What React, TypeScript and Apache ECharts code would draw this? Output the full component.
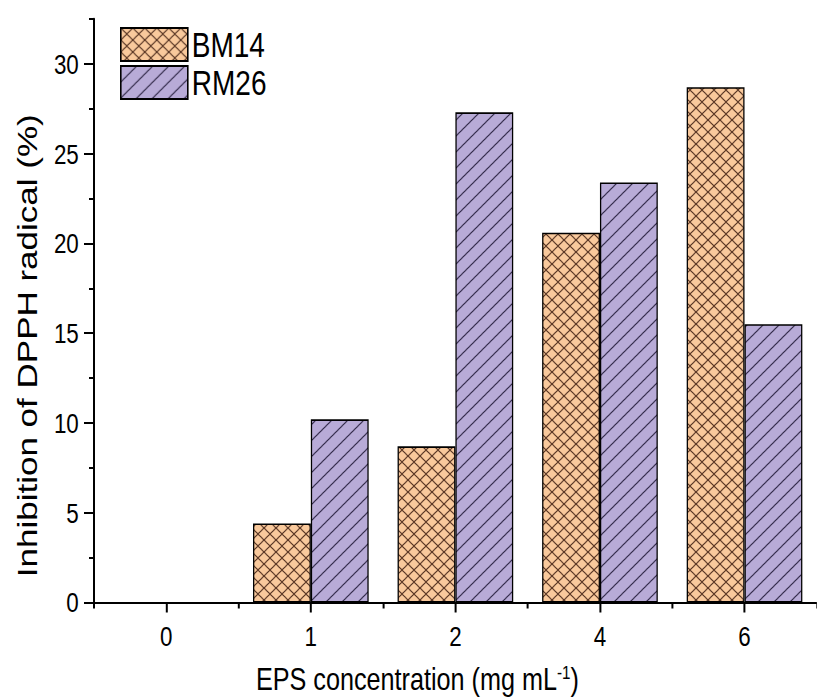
import React, { useEffect, useRef } from "react";
import * as echarts from "echarts";

const categories = ["0", "1", "2", "4", "6"];
const bm14Values = [0, 4.4, 8.7, 20.6, 28.7];
const rm26Values = [0, 10.2, 27.3, 23.4, 15.5];
const yMajorTicks = [0, 5, 10, 15, 20, 25, 30];
const yMinorTicks = [2.5, 7.5, 12.5, 17.5, 22.5, 27.5, 32.5];
const seriesNames = ["BM14", "RM26"];

const FONT = "'Liberation Sans', Arial, Helvetica, sans-serif";
// the reference figure is horizontally compressed; draw wider and squeeze
const SX = 0.8;
const W = 817 / SX;
const H = 700;

function makeCrossHatch(w: number, h: number, bg: string, fg: string): string {
  const c = document.createElement("canvas");
  c.width = w;
  c.height = h;
  const ctx = c.getContext("2d")!;
  ctx.fillStyle = bg;
  ctx.fillRect(0, 0, w, h);
  ctx.strokeStyle = fg;
  ctx.lineWidth = 1.2;
  ctx.beginPath();
  ctx.moveTo(-w * 0.1, -h * 0.1);
  ctx.lineTo(w * 1.1, h * 1.1);
  ctx.moveTo(-w * 0.1, h * 1.1);
  ctx.lineTo(w * 1.1, -h * 0.1);
  ctx.stroke();
  return c.toDataURL();
}

function makeDiagHatch(w: number, h: number, bg: string, fg: string): string {
  const c = document.createElement("canvas");
  c.width = w;
  c.height = h;
  const ctx = c.getContext("2d")!;
  ctx.fillStyle = bg;
  ctx.fillRect(0, 0, w, h);
  ctx.strokeStyle = fg;
  ctx.lineWidth = 1.2;
  ctx.beginPath();
  ctx.moveTo(-w * 0.1, h * 1.1);
  ctx.lineTo(w * 1.1, -h * 0.1);
  ctx.moveTo(-w * 0.15, h * 0.15);
  ctx.lineTo(w * 0.15, -h * 0.15);
  ctx.moveTo(w * 0.85, h * 1.15);
  ctx.lineTo(w * 1.15, h * 0.85);
  ctx.stroke();
  return c.toDataURL();
}

function toBarData(values: number[]) {
  return values.map((v) =>
    v === 0 ? { value: v, itemStyle: { borderWidth: 0 } } : v
  );
}

export default function App() {
  const ref = useRef<HTMLDivElement>(null);

  useEffect(() => {
    document.body.style.margin = "0";
    if (!ref.current) return;
    const chart = echarts.init(ref.current, null, { renderer: "svg" });

    const ch = 12;
    const cw = 15;
    const dh = 16;
    const dw = 20;
    const orangePattern = {
      image: makeCrossHatch(cw, ch, "#F9C99C", "#4E2C1C"),
      repeat: "repeat",
      imageWidth: cw,
      imageHeight: ch,
    };
    const purplePattern = {
      image: makeDiagHatch(dw, dh, "#B8ABD7", "#2A2140"),
      repeat: "repeat",
      imageWidth: dw,
      imageHeight: dh,
    };

    const hLine = { color: "#000", width: 2 };
    const vLine = { color: "#000", width: 2 / SX };

    const option: any = {
      animation: false,
      backgroundColor: "#fff",
      grid: {
        left: 94 / SX,
        top: 19,
        width: 730 / SX,
        height: 586,
        containLabel: false,
      },
      legend: {
        data: seriesNames,
        orient: "vertical",
        left: 116 / SX,
        top: 22,
        itemWidth: 67 / SX,
        itemHeight: 33,
        itemGap: 3,
        icon: "rect",
        textStyle: { fontSize: 35, color: "#000", fontFamily: FONT },
      },
      xAxis: [
        {
          type: "category",
          data: categories,
          position: "bottom",
          axisLine: { show: true, lineStyle: hLine },
          axisTick: {
            show: true,
            alignWithLabel: true,
            interval: 0,
            length: 10,
            lineStyle: vLine,
          },
          axisLabel: {
            fontSize: 28,
            color: "#000",
            margin: 20,
            fontFamily: FONT,
            interval: 0,
          },
          splitLine: { show: false },
          name: "EPS concentration (mg mL{sup|-1})",
          nameLocation: "middle",
          nameGap: 60,
          nameTextStyle: {
            fontSize: 31.5,
            color: "#000",
            fontFamily: FONT,
            padding: [0, 95, 0, 0],
            rich: {
              sup: {
                fontSize: 19,
                color: "#000",
                fontFamily: FONT,
                verticalAlign: "top",
                padding: [0, 0, 14, 0],
              },
            },
          },
        },
        {
          type: "category",
          data: categories,
          position: "bottom",
          axisLine: { show: false },
          axisTick: {
            show: true,
            alignWithLabel: false,
            interval: 0,
            length: 6,
            lineStyle: vLine,
          },
          axisLabel: { show: false },
          splitLine: { show: false },
        },
      ],
      yAxis: [
        {
          type: "value",
          min: 0,
          max: 32.5,
          position: "left",
          axisLine: { show: true, lineStyle: vLine },
          axisTick: {
            show: true,
            length: 10 / SX,
            customValues: yMajorTicks,
            lineStyle: hLine,
          },
          axisLabel: {
            fontSize: 28,
            color: "#000",
            margin: 19,
            fontFamily: FONT,
            customValues: yMajorTicks,
          },
          splitLine: { show: false },
          name: "Inhibition of DPPH radical (%)",
          nameLocation: "middle",
          nameGap: 66,
          nameTextStyle: {
            fontSize: 35,
            color: "#000",
            fontFamily: FONT,
            padding: [0, 70, 0, 0],
          },
        },
        {
          type: "value",
          min: 0,
          max: 32.5,
          position: "left",
          axisLine: { show: false },
          axisTick: {
            show: true,
            length: 5 / SX,
            customValues: yMinorTicks,
            lineStyle: hLine,
          },
          axisLabel: { show: false },
          splitLine: { show: false },
        },
      ],
      series: [
        {
          name: seriesNames[0],
          type: "bar",
          xAxisIndex: 0,
          yAxisIndex: 0,
          data: toBarData(bm14Values),
          barGap: "0%",
          barCategoryGap: "20%",
          itemStyle: {
            color: orangePattern,
            borderColor: "#000",
            borderWidth: 1.6,
          },
        },
        {
          name: seriesNames[1],
          type: "bar",
          xAxisIndex: 0,
          yAxisIndex: 0,
          data: toBarData(rm26Values),
          barGap: "0%",
          barCategoryGap: "20%",
          itemStyle: {
            color: purplePattern,
            borderColor: "#000",
            borderWidth: 1.6,
          },
        },
      ],
    };

    chart.setOption(option);
    return () => chart.dispose();
  }, []);

  return (
    <div
      style={{
        position: "absolute",
        left: 0,
        top: 0,
        width: 817,
        height: H,
        overflow: "hidden",
        background: "#fff",
      }}
    >
      <div
        ref={ref}
        style={{
          width: W,
          height: H,
          transform: `scaleX(${SX})`,
          transformOrigin: "0 0",
        }}
      />
    </div>
  );
}
